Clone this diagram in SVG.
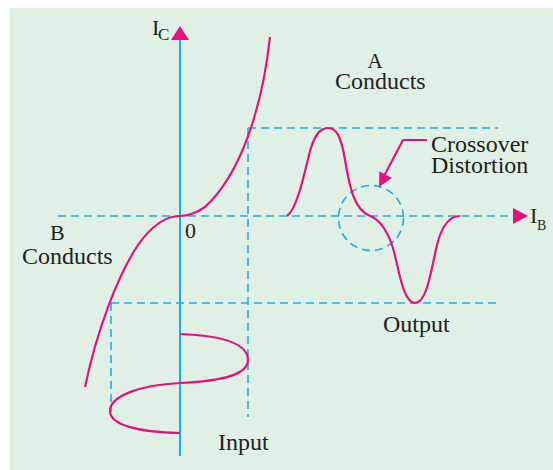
<svg xmlns="http://www.w3.org/2000/svg" width="553" height="470" viewBox="0 0 553 470">
<style>
.t{font-family:"Liberation Serif","Times New Roman",serif;fill:#231f20}
.ax{stroke:#1eaee6;stroke-width:2;fill:none}
.d{stroke:#1eaee6;stroke-width:1.6;fill:none;stroke-dasharray:8 5}
.c{stroke:#e5127d;stroke-width:2.2;fill:none}
.h{fill:#e5127d}
</style>
<rect x="10" y="8" width="543" height="462" fill="#e1f0e5"/>
<g id="connectors">
<path class="d" d="M58,216 H512"/>
<path class="d" d="M248,128 H498"/>
<path class="d" d="M248,128 V417"/>
<path class="d" d="M111,303 H498"/>
<path class="d" d="M111,303 V412"/>
<circle class="d" cx="371" cy="218" r="32.5"/>
<path class="ax" d="M180,40 V456"/>
<polygon class="h" points="180,26 189,40 171,40"/>
<polygon class="h" points="528,216 513,224 513,208"/>
<path class="c" d="M427,140 H403 L384,176" stroke-width="2"/>
<polygon class="h" points="379,187 391.8,177.9 379.4,171.3"/>
</g>
<g id="transfer-curve">
<path class="c" d="M270,37 C262,110 240,175 205,207 C195,214 188,216 180,216 C165,216 150,228 138,245 C118,275 97,330 85,387"/>
</g>
<g id="input-wave">
<path class="c" d="M180,334 C230,336 248,346 248,360 C248,375 222,381 180,383 C140,385 110,396 110,411 C110,425 138,432 180,433"/>
</g>
<g id="output-wave">
<path class="c" d="M287,216 C296,210 303,180 309,155 C314,135 320,128 328,128 C336,128 341,135 345,160 C350,190 355,210 370,216 C378,219 386,228 392,245 C398,262 402,303 415,303 C427,303 431,270 437,245 C442,225 450,216 460,216"/>
</g>
<g id="labels">
<text class="t" x="152" y="35" font-size="22">I</text>
<text class="t" x="158" y="40" font-size="17">C</text>
<text class="t" x="530" y="223" font-size="22">I</text>
<text class="t" x="537" y="230" font-size="14">B</text>
<text class="t" x="185" y="238" font-size="22">0</text>
<text class="t" x="50" y="240" font-size="22">B</text>
<text class="t" x="22" y="264" font-size="24">Conducts</text>
<text class="t" x="375" y="68" font-size="21" text-anchor="middle">A</text>
<text class="t" x="335" y="89" font-size="24">Conducts</text>
<text class="t" x="431" y="152" font-size="24">Crossover</text>
<text class="t" x="431" y="173" font-size="24">Distortion</text>
<text class="t" x="383" y="332" font-size="24">Output</text>
<text class="t" x="218" y="450" font-size="24">Input</text>
</g>
</svg>
